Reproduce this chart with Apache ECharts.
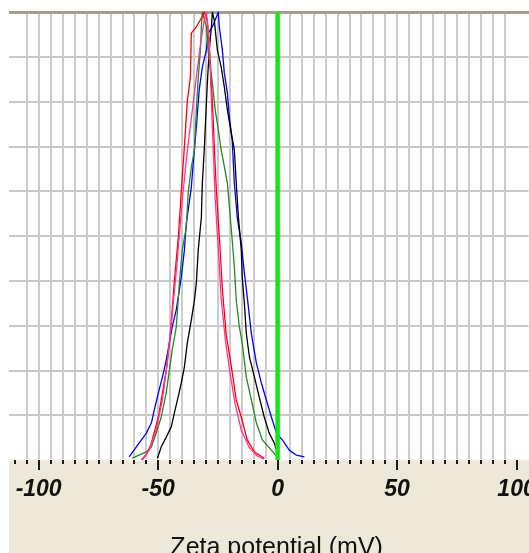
<!DOCTYPE html>
<html>
<head>
<meta charset="utf-8">
<script src="https://cdn.jsdelivr.net/npm/echarts@6/dist/echarts.min.js"></script>
<style>
html,body{margin:0;padding:0;background:#fff;}
#chart{width:529px;height:553px;}
</style>
</head>
<body>
<div id="chart"></div>
<script>
// Tick labels / tick values
const xTickLabels = [-100, -50, 0, 50, 100];
const xMinorTicks = [-110,-105,-100,-95,-90,-85,-80,-75,-70,-65,-60,-55,-50,-45,-40,-35,-30,-25,-20,-15,-10,-5,0,5,10,15,20,25,30,35,40,45,50,55,60,65,70,75,80,85,90,95,100];

// Series values [zeta potential (mV), relative intensity (%)]
const redData = [[-56.6,0],[-54.5,1.6],[-52.8,3.8],[-49.9,9.6],[-46.6,20],[-44.9,28],[-43.2,40],[-41.5,50],[-40.3,60],[-39.0,70],[-37.8,80],[-36.5,85.5],[-36.1,95.3],[-34.0,96.7],[-31.5,99],[-30.7,100],[-29.4,98],[-28.2,89],[-27.3,80],[-26.5,70],[-25.6,60],[-24.4,50],[-23.1,38],[-21.5,28],[-19.4,21],[-17.3,13.4],[-15.2,9.6],[-12.7,4.5],[-9.7,1.8],[-5.6,0.4]];
const pinkData = [[-57,0],[-53.7,2.2],[-50.8,6.7],[-48.2,13.4],[-46.1,22],[-44.0,33],[-41.9,45],[-39.9,58],[-37.8,69],[-35.7,78],[-34.0,85.5],[-32.3,92.6],[-30.7,98.2],[-29.8,100],[-28.6,93.8],[-27.7,80],[-26.9,69],[-26.1,58],[-24.8,47],[-23.6,36],[-21.9,27],[-19.8,19],[-17.7,12.3],[-15.2,6.7],[-11.8,2.7],[-8.5,0.9],[-5.6,0.2]];
const greenData = [[-60.8,0.4],[-54.9,1.8],[-52.8,2.9],[-50.8,6.0],[-48.7,9.6],[-46.6,15],[-45.3,20],[-44.1,24.6],[-42.4,29.7],[-41.1,39.5],[-39.9,46.9],[-38.2,52],[-37.4,59.6],[-36.1,65.4],[-34.8,69.2],[-34.0,78.1],[-33.2,85.5],[-32.3,91.5],[-31.9,96.7],[-31.5,100],[-29.8,96.7],[-29.0,90.8],[-27.3,84.2],[-26.1,78.1],[-24.8,73.7],[-23.6,69.2],[-21.0,61.8],[-19.8,54.2],[-19.0,49.1],[-18.1,43.1],[-17.3,35.7],[-16.0,29.7],[-14.8,26.1],[-13.1,18.5],[-11.0,13.4],[-8.9,8.3],[-6.4,4.5],[-2.6,2.2],[-0.5,0.9]];
const blackData = [[-50.3,0.4],[-48.7,2.9],[-46.6,5.1],[-44.5,7.4],[-43.2,10.5],[-41.9,13.4],[-40.3,17.2],[-39.0,20.8],[-37.8,26.1],[-36.1,31.3],[-34.8,35.7],[-34.0,39.5],[-33.2,46.9],[-31.9,54.2],[-31.5,61.8],[-30.7,69.2],[-29.8,79.7],[-29.4,84.2],[-28.6,91.5],[-27.7,96.7],[-27.3,100],[-26.5,98.2],[-25.2,91.5],[-23.6,87.7],[-22.3,83.3],[-21.0,78.1],[-19.4,73.0],[-18.1,69.2],[-17.3,61.8],[-16.4,54.2],[-15.2,46.9],[-14.8,40.8],[-13.9,35.0],[-13.1,28.3],[-11.8,23.0],[-9.7,18.5],[-7.7,14.1],[-5.6,9.6],[-3.5,6.0],[-1.4,3.8],[-0.1,1.6]];
const blueData = [[-62.1,0.7],[-57.9,3.8],[-54.9,6.0],[-52.8,8.3],[-51.6,11.2],[-49.9,15.0],[-48.2,18.5],[-46.6,22.3],[-45.3,26.1],[-44.1,29.7],[-42.4,33.5],[-40.3,40.8],[-39.0,46.9],[-38.2,52.9],[-37.4,55.8],[-36.1,60.9],[-35.3,66.3],[-34.0,74.3],[-32.8,82.6],[-31.5,87.7],[-29.8,91.5],[-29.0,95.3],[-27.3,96.7],[-25.6,98.9],[-24.8,100],[-24.4,96.7],[-23.1,91.5],[-22.3,86.4],[-21.0,81.9],[-20.2,76.6],[-19.0,71.4],[-18.1,61.8],[-16.9,54.2],[-15.2,48.4],[-13.9,41.7],[-12.7,36.4],[-11.0,28.3],[-8.9,21.7],[-6.8,17.2],[-4.7,13.4],[-2.6,9.6],[-0.5,6.0],[2.0,4.5],[4.9,2.2],[7.8,1.1],[11.2,0.7]];
const zeroLineData = [[0,0],[0,100]];

const chart = echarts.init(document.getElementById('chart'), null, {renderer:'canvas'});

function lineSeries(data, color, width, z) {
  return {type:'line', data:data, xAxisIndex:0, yAxisIndex:0, showSymbol:false, symbol:'none',
    lineStyle:{color:color, width:width}, itemStyle:{color:color}, z:z, silent:true, animation:false, clip:true};
}

const X_MIN = -115, X_MAX = 105;

const option = {
  backgroundColor:'#ffffff',
  animation:false,
  grid:{left:2.8, right:0.5, top:12, bottom:93, containLabel:false, outerBoundsMode:'none'},
  graphic:[
    {type:'rect', z:-10, silent:true, shape:{x:9, y:461, width:520, height:92}, style:{fill:'#ECE9D8'}},
    {type:'rect', z:100, silent:true, shape:{x:0, y:0, width:9, height:553}, style:{fill:'#ffffff'}}
  ],
  xAxis:[
    {type:'value', position:'bottom', min:X_MIN, max:X_MAX, interval:5,
     axisLine:{show:true, onZero:false, lineStyle:{color:'#f6f4ec', width:2}},
     axisTick:{show:true, inside:false, length:4, customValues:xMinorTicks, lineStyle:{color:'#1a1a1a', width:2}},
     axisLabel:{show:true, customValues:xTickLabels, margin:18, color:'#111111', fontSize:23, fontWeight:'bold', fontStyle:'italic', fontFamily:'Liberation Sans',
       formatter:function(v){ return xTickLabels.indexOf(v) >= 0 ? String(v) : ''; }},
     splitLine:{show:true, showMinLine:false, showMaxLine:false, lineStyle:{color:'#cccccc', width:2}},
     name:'Zeta potential (mV)', nameLocation:'middle', nameGap:76,
     nameTextStyle:{fontSize:25, fontFamily:'Liberation Sans', color:'#111111', padding:[0,0,0,22]}
    },
    {type:'value', position:'bottom', min:X_MIN, max:X_MAX,
     axisLine:{show:false, onZero:false},
     axisTick:{show:true, length:10, customValues:xTickLabels, lineStyle:{color:'#1a1a1a', width:2}},
     axisLabel:{show:false}, splitLine:{show:false}
    },
    {type:'value', position:'top', min:X_MIN, max:X_MAX,
     axisLine:{show:true, onZero:false, lineStyle:{color:'#a29f8f', width:3}},
     axisTick:{show:false}, axisLabel:{show:false}, splitLine:{show:false}
    }
  ],
  yAxis:[{type:'value', min:0, max:100, interval:10,
    axisLine:{show:false}, axisTick:{show:false}, axisLabel:{show:false},
    splitLine:{show:true, showMaxLine:false, lineStyle:{color:'#c8c8c8', width:2}}}],
  series:[
    lineSeries(blueData, '#0000ff', 1.3, 3),
    lineSeries(blackData, '#000000', 1.3, 4),
    lineSeries(greenData, '#1f8a1f', 1.3, 5),
    lineSeries(redData, '#ff0000', 1.3, 6),
    lineSeries(pinkData, '#ff3399', 1.3, 7),
    lineSeries(zeroLineData, '#14e614', 4.5, 10)
  ]
};
chart.setOption(option);
</script>
</body>
</html>
